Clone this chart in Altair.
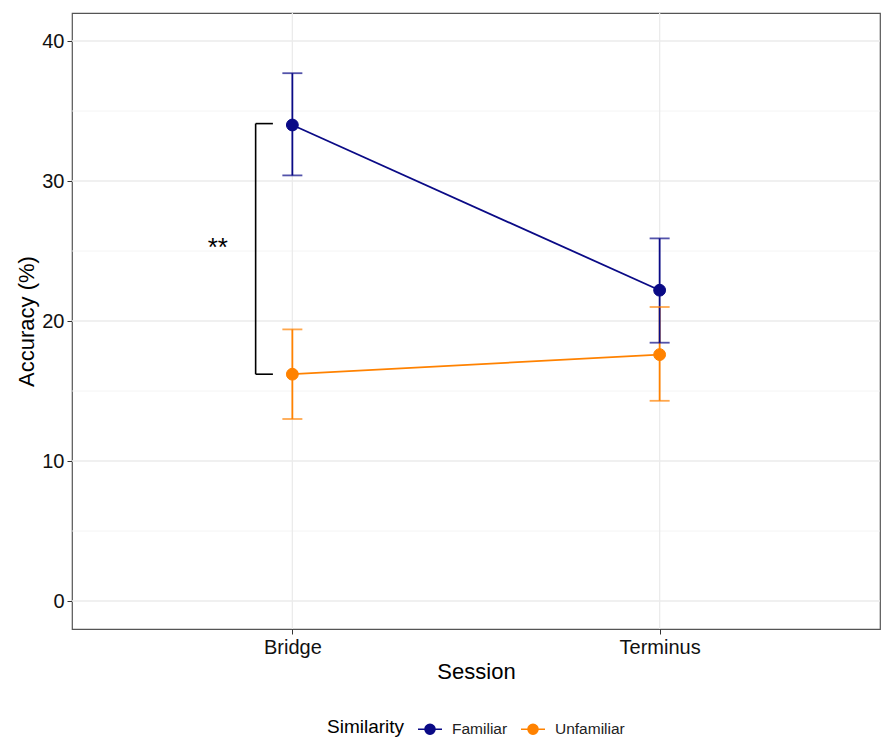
import altair as alt
import pandas as pd

# ---- data ----
sessions = ["Bridge", "Terminus"]
session_pos = [1, 2]
similarity = ["Unfamiliar", "Unfamiliar", "Familiar", "Familiar"]
session_of_row = ["Bridge", "Terminus", "Bridge", "Terminus"]
accuracy = [16.2, 17.6, 34.0, 22.2]
lower = [13.0, 14.3, 30.4, 18.45]
upper = [19.4, 21.0, 37.7, 25.9]

y_major = [0, 10, 20, 30, 40]
y_minor = [5, 15, 25, 35]

bracket_x = 0.9
bracket_x_end = 0.947
bracket_top = 34.1
bracket_bottom = 16.2
star_x = 0.797
star_y = 25.5
star_label = "**"

pos_map = dict(zip(sessions, session_pos))
df = pd.DataFrame({
    "Similarity": similarity,
    "Session": session_of_row,
    "x": [pos_map[s] for s in session_of_row],
    "Accuracy": accuracy,
    "lo": lower,
    "hi": upper,
})

XS = alt.Scale(domain=[0.4, 2.6], nice=False, zero=False)
YS = alt.Scale(domain=[-2, 42], nice=False, zero=False)
col_scale = alt.Scale(domain=["Familiar", "Unfamiliar"], range=["#0a0a86", "#ff8200"])

label_expr = "datum.value == 1 ? 'Bridge' : (datum.value == 2 ? 'Terminus' : '')"

xaxis = alt.Axis(values=session_pos, labelExpr=label_expr, title="Session", grid=False,
                 domain=False, tickColor="#333333", tickSize=5, tickWidth=1,
                 labelFontSize=20, labelColor="#111111", labelPadding=3,
                 titleFontSize=22, titleFontWeight="normal", titleColor="#000000",
                 titlePadding=4, labelFont="Liberation Sans", titleFont="Liberation Sans")
yaxis = alt.Axis(values=y_major, title="Accuracy (%)", grid=False,
                 domain=False, tickColor="#333333", tickSize=5, tickWidth=1,
                 labelFontSize=20, labelColor="#111111", labelPadding=3,
                 titleFontSize=22, titleFontWeight="normal", titleColor="#000000",
                 titlePadding=3, labelFont="Liberation Sans", titleFont="Liberation Sans")

sym_path = ("M -0.42 0 A 0.42 0.42 0 1 1 0.42 0 A 0.42 0.42 0 1 1 -0.42 0 Z "
            "M -1 0 L 1 0")

leg = alt.Legend(
    title="Similarity", orient="none", legendX=255, legendY=703,
    direction="horizontal", titleOrient="left", titleFontSize=19,
    titleFontWeight="normal", titleColor="#000000", titleFont="Liberation Sans",
    labelFont="Liberation Sans", labelFontSize=15.5, labelColor="#222222",
    symbolType=sym_path, symbolSize=576, symbolStrokeWidth=1.5,
    labelOffset=9, titlePadding=12, padding=0, symbolOpacity=1,
)

def X(f):
    return alt.X(f, scale=XS, axis=xaxis)

def Y(f):
    return alt.Y(f, scale=YS, axis=yaxis)

def C():
    return alt.Color("Similarity:N", scale=col_scale, legend=leg)

base = alt.Chart(df)

# grid lines
g_major = alt.Chart(pd.DataFrame({"v": y_major})).mark_rule(color="#ebebeb", strokeWidth=1.3).encode(
    y=Y("v:Q"))
g_minor = alt.Chart(pd.DataFrame({"v": y_minor})).mark_rule(color="#f1f1f1", strokeWidth=0.8).encode(
    y=Y("v:Q"))
g_vert = alt.Chart(pd.DataFrame({"v": session_pos})).mark_rule(color="#ebebeb", strokeWidth=1.3).encode(
    x=X("v:Q"))

lines = base.mark_line(strokeWidth=1.8).encode(
    x=X("x:Q"), y=Y("Accuracy:Q"), color=C(), detail="Similarity:N")

bars = base.mark_rule(strokeWidth=1.8).encode(
    x=X("x:Q"), y=Y("lo:Q"), y2="hi:Q", color=C())
caps_lo = base.mark_tick(orient="horizontal", size=20, thickness=1.8).encode(
    x=X("x:Q"), y=Y("lo:Q"), color=C())
caps_hi = base.mark_tick(orient="horizontal", size=20, thickness=1.8).encode(
    x=X("x:Q"), y=Y("hi:Q"), color=C())

points = base.mark_point(filled=True, size=140, opacity=1, strokeWidth=1).encode(
    x=X("x:Q"), y=Y("Accuracy:Q"), color=C(),
    stroke=alt.Stroke("Similarity:N", scale=col_scale, legend=leg),
)

bracket_df = pd.DataFrame({"x1": [bracket_x, bracket_x, bracket_x],
                           "x2": [bracket_x, bracket_x_end, bracket_x_end],
                           "y1": [bracket_bottom, bracket_top, bracket_bottom],
                           "y2": [bracket_top, bracket_top, bracket_bottom]})
bracket = alt.Chart(bracket_df).mark_rule(color="#000000", strokeWidth=1.6).encode(
    x=X("x1:Q"), x2="x2:Q", y=Y("y1:Q"), y2="y2:Q")

stars = alt.Chart(pd.DataFrame({"x": [star_x], "y": [star_y], "t": [star_label]})).mark_text(
    fontSize=26, font="Liberation Sans", color="#000000", baseline="middle", align="center", dy=4
).encode(x=X("x:Q"), y=Y("y:Q"), text="t:N")

chart = alt.layer(g_minor, g_major, g_vert, lines, bars, caps_lo, caps_hi, points, bracket, stars).properties(
    width=808, height=616,
    padding={"left": 64, "top": 5, "right": 5, "bottom": 116},
    autosize=alt.AutoSizeParams(type="none"),
    background="#ffffff",
).configure_view(stroke="#555555", strokeWidth=1.2).configure_legend(columnPadding=10)

chart.save("out.html", embed_options={"renderer": "svg", "actions": False})
